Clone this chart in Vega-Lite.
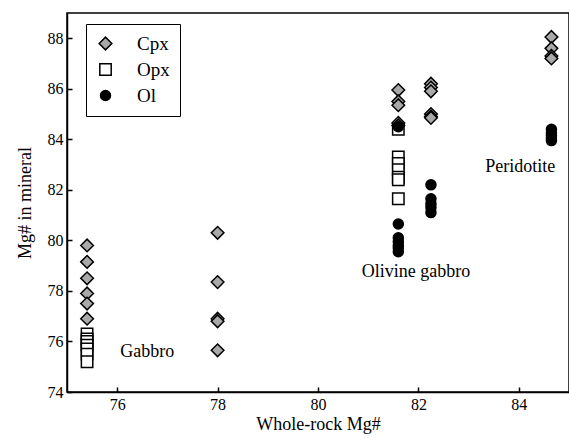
{
  "$schema": "https://vega.github.io/schema/vega-lite/v6.json",
  "width": 502,
  "height": 379,
  "autosize": "none",
  "padding": {"left": 67, "top": 13, "right": 0, "bottom": 46},
  "background": "white",
  "config": {
    "font": "Liberation Serif",
    "view": {"stroke": "black", "strokeWidth": 1.5},
    "axis": {
      "domainColor": "black", "domainWidth": 1.5, "tickColor": "black", "tickWidth": 1.5,
      "grid": false, "labelColor": "black", "titleFontWeight": "normal", "titleColor": "black",
      "labelFont": "Liberation Serif", "titleFont": "Liberation Serif"
    },
    "legend": {"labelFont": "Liberation Serif"}
  },
  "layer": [
    {
      "data": {"values": [
        {"x": 75.4, "y": 79.8, "m": "Cpx"}, {"x": 75.4, "y": 79.15, "m": "Cpx"}, {"x": 75.4, "y": 78.5, "m": "Cpx"},
        {"x": 75.4, "y": 77.9, "m": "Cpx"}, {"x": 75.4, "y": 77.5, "m": "Cpx"}, {"x": 75.4, "y": 76.9, "m": "Cpx"},
        {"x": 75.4, "y": 76.3, "m": "Opx"}, {"x": 75.4, "y": 76.1, "m": "Opx"}, {"x": 75.4, "y": 76.0, "m": "Opx"},
        {"x": 75.4, "y": 75.85, "m": "Opx"}, {"x": 75.4, "y": 75.7, "m": "Opx"}, {"x": 75.4, "y": 75.5, "m": "Opx"},
        {"x": 75.4, "y": 75.2, "m": "Opx"},
        {"x": 78.0, "y": 80.3, "m": "Cpx"}, {"x": 78.0, "y": 78.35, "m": "Cpx"}, {"x": 78.0, "y": 76.9, "m": "Cpx"},
        {"x": 78.0, "y": 76.8, "m": "Cpx"}, {"x": 78.0, "y": 75.65, "m": "Cpx"},
        {"x": 81.6, "y": 85.95, "m": "Cpx"}, {"x": 81.6, "y": 85.5, "m": "Cpx"}, {"x": 81.6, "y": 85.35, "m": "Cpx"},
        {"x": 81.6, "y": 84.65, "m": "Cpx"}, {"x": 81.6, "y": 84.55, "m": "Cpx"},
        {"x": 81.6, "y": 84.4, "m": "Opx"}, {"x": 81.6, "y": 83.3, "m": "Opx"}, {"x": 81.6, "y": 83.05, "m": "Opx"},
        {"x": 81.6, "y": 82.8, "m": "Opx"}, {"x": 81.6, "y": 82.5, "m": "Opx"}, {"x": 81.6, "y": 82.4, "m": "Opx"},
        {"x": 81.6, "y": 81.65, "m": "Opx"},
        {"x": 81.6, "y": 84.5, "m": "Ol"},
        {"x": 81.6, "y": 80.65, "m": "Ol"}, {"x": 81.6, "y": 80.1, "m": "Ol"}, {"x": 81.6, "y": 79.95, "m": "Ol"},
        {"x": 81.6, "y": 79.8, "m": "Ol"}, {"x": 81.6, "y": 79.7, "m": "Ol"}, {"x": 81.6, "y": 79.55, "m": "Ol"},
        {"x": 82.25, "y": 86.2, "m": "Cpx"}, {"x": 82.25, "y": 86.05, "m": "Cpx"}, {"x": 82.25, "y": 85.9, "m": "Cpx"},
        {"x": 82.25, "y": 85.0, "m": "Cpx"}, {"x": 82.25, "y": 84.9, "m": "Cpx"}, {"x": 82.25, "y": 84.85, "m": "Cpx"},
        {"x": 82.25, "y": 82.2, "m": "Ol"}, {"x": 82.25, "y": 81.65, "m": "Ol"}, {"x": 82.25, "y": 81.45, "m": "Ol"},
        {"x": 82.25, "y": 81.3, "m": "Ol"}, {"x": 82.25, "y": 81.1, "m": "Ol"},
        {"x": 84.65, "y": 88.05, "m": "Cpx"}, {"x": 84.65, "y": 87.6, "m": "Cpx"}, {"x": 84.65, "y": 87.3, "m": "Cpx"},
        {"x": 84.65, "y": 87.2, "m": "Cpx"},
        {"x": 84.65, "y": 84.4, "m": "Ol"}, {"x": 84.65, "y": 84.25, "m": "Ol"}, {"x": 84.65, "y": 84.15, "m": "Ol"},
        {"x": 84.65, "y": 84.05, "m": "Ol"}, {"x": 84.65, "y": 83.95, "m": "Ol"}
      ]},
      "mark": {"type": "point", "filled": true, "strokeWidth": 1.5, "opacity": 1, "stroke": "black"},
      "encoding": {
        "x": {"field": "x", "type": "quantitative", "scale": {"domain": [75, 85], "nice": false, "zero": false},
              "axis": {"title": "Whole-rock Mg#", "values": [76, 78, 80, 82, 84], "tickSize": -5, "labelPadding": 9, "titlePadding": 3,
                       "labelFontSize": 16, "titleFontSize": 18}},
        "y": {"field": "y", "type": "quantitative", "scale": {"domain": [74, 89], "nice": false, "zero": false},
              "axis": {"title": "Mg# in mineral", "values": [74, 76, 78, 80, 82, 84, 86, 88], "tickSize": -5, "labelPadding": 9, "titlePadding": 13,
                       "labelFontSize": 16, "titleFontSize": 18}},
        "shape": {"field": "m", "type": "nominal",
                  "scale": {"domain": ["Cpx", "Opx", "Ol"], "range": ["diamond", "square", "circle"]},
                  "legend": {"title": null, "orient": "none", "legendX": 19, "legendY": 11,
                             "strokeColor": "black", "fillColor": "white", "padding": 10,
                             "labelFontSize": 19, "labelColor": "black",
                             "rowPadding": 6, "labelOffset": 22, "symbolStrokeWidth": 1.5, "symbolStrokeColor": "black"}},
        "fill": {"field": "m", "type": "nominal",
                 "scale": {"domain": ["Cpx", "Opx", "Ol"], "range": ["#a9a9a9", "white", "black"]}},
        "size": {"field": "m", "type": "nominal",
                 "scale": {"domain": ["Cpx", "Opx", "Ol"], "range": [160, 100, 121]}}
      }
    },
    {
      "data": {"values": [
        {"x": 76.6, "y": 75.6, "t": "Gabbro"},
        {"x": 81.95, "y": 78.75, "t": "Olivine gabbro"},
        {"x": 84.03, "y": 82.9, "t": "Peridotite"}
      ]},
      "mark": {"type": "text", "fontSize": 18, "color": "black", "font": "Liberation Serif"},
      "encoding": {
        "x": {"field": "x", "type": "quantitative"},
        "y": {"field": "y", "type": "quantitative"},
        "text": {"field": "t"}
      }
    }
  ]
}
